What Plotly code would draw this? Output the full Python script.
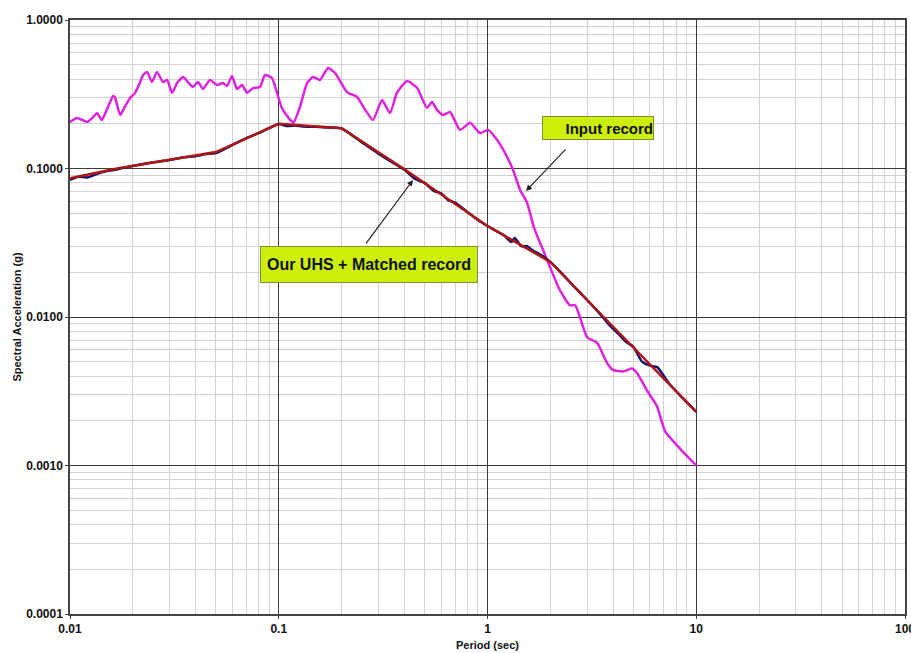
import numpy as np
import plotly.graph_objects as go

# Input record response spectrum (period in s, Sa in g)
input_period = [0.0100, 0.0108, 0.0121, 0.0128, 0.0135, 0.0142, 0.0150, 0.0161, 0.0164,
                0.0174, 0.0183, 0.0194, 0.0205, 0.0216, 0.0224, 0.0234, 0.0247, 0.0261,
                0.0279, 0.0292, 0.0308, 0.0326, 0.0348, 0.0367, 0.0388, 0.0410, 0.0434,
                0.0468, 0.0506, 0.0541, 0.0565, 0.0597, 0.0631, 0.0667, 0.0705, 0.0753,
                0.0813, 0.0859, 0.0928, 0.0981, 0.1036, 0.1132, 0.1180, 0.1264, 0.1366,
                0.1459, 0.1576, 0.1722, 0.1860, 0.2123, 0.2371, 0.2590, 0.2829, 0.3123,
                0.3411, 0.3686, 0.4116, 0.4596, 0.5131, 0.5422, 0.5730, 0.6120, 0.6614,
                0.7384, 0.8245, 0.9206, 1.0055, 1.1105, 1.2399, 1.3246, 1.4311, 1.5460,
                1.6700, 1.8500, 2.2200, 2.4800, 2.6300, 2.7700, 3.0000, 3.3500, 3.7400,
                3.9900, 4.4600, 4.9200, 5.2000, 5.8100, 6.4900, 7.0900, 8.3600, 10.000]
input_sa = [0.206, 0.219, 0.206, 0.219, 0.236, 0.212, 0.248, 0.308, 0.303,
            0.229, 0.260, 0.298, 0.323, 0.376, 0.426, 0.447, 0.382, 0.447,
            0.382, 0.395, 0.323, 0.376, 0.413, 0.382, 0.354, 0.382, 0.343,
            0.395, 0.365, 0.376, 0.359, 0.420, 0.343, 0.365, 0.323, 0.348,
            0.354, 0.426, 0.407, 0.323, 0.255, 0.213, 0.205, 0.260, 0.376,
            0.413, 0.395, 0.475, 0.440, 0.327, 0.303, 0.250, 0.212, 0.289,
            0.236, 0.324, 0.388, 0.350, 0.256, 0.280, 0.248, 0.229, 0.240,
            0.182, 0.203, 0.173, 0.182, 0.156, 0.120, 0.098, 0.072, 0.059,
            0.040, 0.028, 0.0152, 0.0120, 0.0120, 0.0100, 0.0073, 0.0067, 0.0049,
            0.0044, 0.0043, 0.0045, 0.0042, 0.0032, 0.0025, 0.0017, 0.0013, 0.0010]

# Spectrum of the matched record
matched_period = [0.010, 0.011, 0.0121, 0.0135, 0.015, 0.017, 0.020, 0.025, 0.030, 0.035,
                  0.040, 0.045, 0.050, 0.060, 0.070, 0.080, 0.090, 0.100, 0.110, 0.120,
                  0.130, 0.150, 0.170, 0.200, 0.250, 0.300, 0.350, 0.400, 0.450, 0.500,
                  0.550, 0.600, 0.650, 0.700, 0.800, 0.900, 1.000, 1.100, 1.200, 1.300,
                  1.350, 1.450, 1.550, 1.650, 1.800, 2.000, 2.300, 2.600, 3.000, 3.300,
                  3.600, 3.900, 4.200, 4.600, 5.000, 5.500, 6.000, 6.500, 7.000, 7.500,
                  8.500, 10.00]
matched_sa = [0.084, 0.088, 0.087, 0.092, 0.096, 0.099, 0.104, 0.110, 0.114, 0.119,
              0.121, 0.125, 0.127, 0.144, 0.160, 0.173, 0.187, 0.199, 0.193, 0.195,
              0.192, 0.191, 0.189, 0.186, 0.150, 0.126, 0.110, 0.098, 0.085, 0.080,
              0.071, 0.068, 0.061, 0.059, 0.051, 0.045, 0.041, 0.038, 0.0355, 0.0320,
              0.0340, 0.0300, 0.0300, 0.0280, 0.0262, 0.0235, 0.0193, 0.0160, 0.0130, 0.0113,
              0.0098, 0.0086, 0.0078, 0.0068, 0.0063, 0.0050, 0.0047, 0.0046, 0.0040, 0.0035,
              0.0029, 0.0023]

# Uniform hazard spectrum (target)
uhs_period = [0.01, 0.0168, 0.05, 0.1, 0.2, 0.4, 1.0, 2.0, 3.6, 10.0]
uhs_sa = [0.086, 0.100, 0.129, 0.200, 0.187, 0.0988, 0.041, 0.0235, 0.0100, 0.0023]

x_tickvals = [0.01, 0.1, 1, 10, 100]
x_ticktext = ["0.01", "0.1", "1", "10", "100"]
y_tickvals = [0.0001, 0.001, 0.01, 0.1, 1.0]
y_ticktext = ["0.0001", "0.0010", "0.0100", "0.1000", "1.0000"]

FONT = "Liberation Sans, Arial, sans-serif"

fig = go.Figure()
fig.add_trace(go.Scatter(x=input_period, y=input_sa, mode="lines",
                         line=dict(color="#DD22E0", width=2.5, shape="spline", smoothing=0.5),
                         showlegend=False, hoverinfo="skip"))
fig.add_trace(go.Scatter(x=matched_period, y=matched_sa, mode="lines",
                         line=dict(color="#14146E", width=2.5, shape="spline", smoothing=0.6),
                         showlegend=False, hoverinfo="skip"))
fig.add_trace(go.Scatter(x=uhs_period, y=uhs_sa, mode="lines",
                         line=dict(color="#B01515", width=2.5),
                         showlegend=False, hoverinfo="skip"))


def minor_vals(lo, hi):
    return [m * 10.0 ** e for e in range(lo, hi) for m in range(2, 10)]


fig.update_xaxes(type="log", range=[-2, 2], tickvals=x_tickvals, ticktext=x_ticktext,
                 tickfont=dict(family=FONT, size=12, color="#111", weight="bold"),
                 ticklabeloverflow="allow",
                 showgrid=True, gridcolor="#3a3a3a", gridwidth=1,
                 minor=dict(tickvals=minor_vals(-2, 2), showgrid=True,
                            gridcolor="#d2d2d2", gridwidth=1, ticks=""),
                 showline=True, linecolor="#444", linewidth=1.5, mirror=True,
                 ticks="outside", ticklen=3, tickcolor="#444",
                 zeroline=False, automargin=False)
fig.update_yaxes(type="log", range=[-4, 0], tickvals=y_tickvals, ticktext=y_ticktext,
                 tickfont=dict(family=FONT, size=12, color="#111", weight="bold"),
                 ticklabeloverflow="allow",
                 showgrid=True, gridcolor="#3a3a3a", gridwidth=1,
                 minor=dict(tickvals=minor_vals(-4, 0), showgrid=True,
                            gridcolor="#d2d2d2", gridwidth=1, ticks=""),
                 showline=True, linecolor="#444", linewidth=1.5, mirror=True,
                 ticks="outside", ticklen=3, tickcolor="#444",
                 zeroline=False, automargin=False)

annotations = [
    # axis titles
    dict(text="Spectral Acceleration (g)", xref="paper", yref="paper",
         x=-0.064, y=0.5, xanchor="center", yanchor="middle", textangle=-90,
         showarrow=False,
         font=dict(family=FONT, size=11, color="#111", weight="bold")),
    dict(text="Period (sec)", xref="paper", yref="paper",
         x=0.5, y=-0.052, xanchor="center", yanchor="middle", showarrow=False,
         font=dict(family=FONT, size=11, color="#111", weight="bold")),
    # callout boxes
    dict(text="Input record", x=np.log10(3.40), y=np.log10(0.186), showarrow=False,
         width=110, height=22, align="right", borderpad=0,
         bgcolor="#CCEE0A", bordercolor="#7f8f40", borderwidth=1,
         font=dict(family=FONT, size=15, color="#111", weight="bold")),
    dict(text="Our UHS + Matched record", x=np.log10(0.272), y=np.log10(0.0227), showarrow=False,
         width=216, height=35, align="center", borderpad=0,
         bgcolor="#CCEE0A", bordercolor="#7f8f40", borderwidth=1,
         font=dict(family=FONT, size=16, color="#111", weight="bold")),
    # arrows
    dict(text="", x=np.log10(1.529), y=np.log10(0.0706), showarrow=True,
         ax=41, ay=-43, arrowhead=2, arrowsize=1, arrowwidth=1.2,
         arrowcolor="#222", standoff=0),
    dict(text="", x=np.log10(0.4395), y=np.log10(0.0837), showarrow=True,
         ax=-48, ay=65, arrowhead=2, arrowsize=1, arrowwidth=1.2,
         arrowcolor="#222", standoff=0),
]

fig.update_layout(width=911, height=653,
                  margin=dict(l=70, r=6, t=20, b=39, pad=0),
                  paper_bgcolor="white", plot_bgcolor="white",
                  template="none", showlegend=False,
                  annotations=annotations)

fig.write_html("out.html")
